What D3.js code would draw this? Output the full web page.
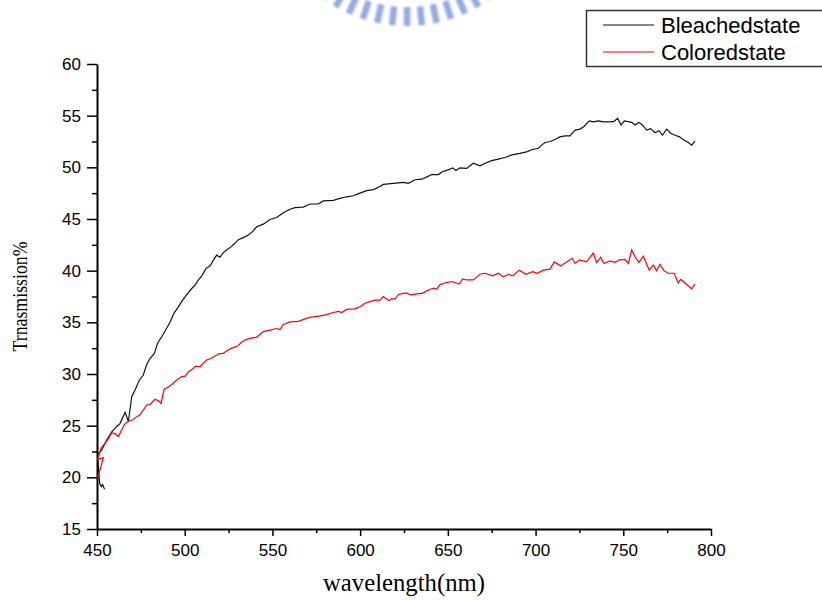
<!DOCTYPE html>
<html lang="en">
  <head>
    <meta charset="UTF-8">
    <title>Transmission spectrum</title>
    <style>
      body { margin: 0; background: #fff; }
      .tick text { font: 17px "Liberation Sans", Arial, sans-serif; fill: #000; }
      .axis path, .axis line { stroke: #000; }
      .series { fill: none; stroke-width: 1.2px; }
    </style>
  </head>
  <body>
    <script src="https://d3js.org/d3.v7.min.js"></script>
    <script>
      // [wavelength nm, transmission %] (scan order kept)
      const bleached = [
        [454.3,18.85],[453.2,19.3],[452.5,19.1],[451.5,19.4],[450.3,22.2],
        [452.7,22.65],[455.5,23.6],[458.4,24.4],[461.2,24.9],[463.1,25.2],[466.0,26.3],[467.9,25.4],
        [469.8,27.8],[471.7,28.45],[474.1,29.4],[476.4,29.9],[478.3,30.9],[480.2,31.5],[482.7,32.0],
        [484.6,33.0],[486.9,33.6],[489.3,34.3],[491.6,35.0],[493.9,35.9],[496.4,36.5],[498.6,37.1],
        [501.1,37.65],[503.6,38.2],[505.9,38.6],[507.8,39.1],[509.7,39.5],[512.1,40.2],[514.4,40.45],
        [516.3,41.0],[518.2,41.5],[520.1,41.3],[522.0,41.75],[523.9,42.0],[526.4,42.3],[528.3,42.6],
        [530.6,43.0],[533.4,43.2],[536.3,43.45],[538.5,43.75],[541.0,44.25],[544.8,44.5],[548.6,44.95],
        [552.4,45.15],[556.2,45.6],[560.0,45.95],[562.9,46.1],[567.6,46.15],[571.4,46.45],[576.2,46.45],
        [579.0,46.75],[584.7,46.8],[588.5,47.0],[592.3,47.15],[596.1,47.25],[599.9,47.5],[603.7,47.75],
        [607.5,47.85],[611.3,48.15],[613.2,48.35],[618.9,48.45],[624.6,48.55],[627.5,48.45],[631.3,48.8],
        [635.1,48.85],[637.9,49.05],[640.8,49.3],[644.6,49.3],[647.0,49.6],[649.3,49.7],[652.7,49.95],
        [654.6,49.7],[656.9,49.95],[660.7,49.9],[664.5,50.4],[668.3,50.15],[671.2,50.4],[675.0,50.65],
        [678.8,50.8],[682.6,50.95],[686.4,51.2],[691.1,51.35],[694.9,51.5],[697.8,51.7],[701.6,51.85],
        [703.5,52.15],[705.4,52.4],[708.2,52.5],[711.1,52.7],[713.9,52.95],[716.8,53.05],[719.6,53.05],
        [722.5,53.6],[725.3,53.7],[727.6,53.95],[730.6,54.5],[732.9,54.4],[735.8,54.5],[738.6,54.4],
        [742.4,54.4],[744.7,54.45],[746.8,54.75],[748.7,54.1],[750.6,54.5],[754.8,54.35],[756.7,54.1],
        [758.9,54.35],[760.9,54.1],[763.3,53.6],[765.6,53.75],[768.1,53.35],[770.4,53.55],[772.3,53.1],
        [774.7,53.7],[777.0,53.3],[779.5,53.1],[782.0,52.95],[784.6,52.65],[787.1,52.4],[789.0,52.15],
        [790.9,52.55]
      ];

      const colored = [
        [450.4,19.9],[453.6,21.9],[451.7,21.8],[450.4,21.7],[452.3,22.8],[454.6,23.3],[456.5,23.75],
        [458.4,24.3],[459.9,24.25],[462.2,23.95],[464.1,24.6],[466.0,25.2],[467.9,25.4],[470.1,25.55],
        [472.6,25.85],[474.5,26.05],[476.4,26.5],[478.3,27.0],[480.2,27.05],[483.1,27.55],[485.0,27.4],
        [486.5,27.15],[488.2,28.5],[490.7,28.75],[493.5,29.1],[496.0,29.5],[498.3,29.75],[500.2,29.8],
        [502.4,30.25],[504.3,30.45],[506.2,30.75],[508.7,30.7],[510.6,31.05],[512.5,31.35],[515.0,31.5],
        [517.3,31.75],[519.5,31.95],[522.0,32.0],[524.5,32.3],[526.8,32.5],[530.2,32.7],[532.5,33.1],
        [535.3,33.35],[538.2,33.5],[541.0,33.55],[544.8,34.1],[548.6,34.25],[552.4,34.4],[554.3,34.3],
        [556.2,34.8],[560.0,35.05],[564.8,35.1],[570.5,35.45],[576.2,35.6],[580.9,35.75],[584.7,35.95],
        [587.6,36.05],[589.5,35.95],[592.3,36.25],[597.1,36.3],[599.9,36.5],[602.8,36.85],[605.6,37.0],
        [608.5,37.15],[611.3,37.15],[613.2,37.5],[614.7,37.3],[616.6,37.1],[618.0,37.3],[619.9,37.25],
        [621.8,37.7],[624.6,37.8],[626.5,37.85],[628.8,37.65],[632.2,37.75],[635.1,37.8],[637.0,37.95],
        [639.8,38.2],[642.1,38.3],[643.6,38.2],[645.5,38.65],[649.3,38.85],[652.2,38.95],[656.5,38.7],
        [658.4,39.2],[660.7,39.1],[664.5,39.1],[668.3,39.65],[671.2,39.75],[675.5,39.5],[678.8,39.75],
        [681.6,39.4],[684.5,39.65],[686.9,39.5],[690.7,40.05],[694.5,39.65],[698.3,39.9],[701.0,39.75],
        [704.4,40.05],[708.2,40.15],[710.7,40.85],[714.3,40.45],[717.7,40.85],[720.9,41.2],[722.5,40.7],
        [725.0,41.05],[729.1,40.85],[732.9,41.7],[734.8,40.8],[737.1,41.3],[739.0,40.7],[742.4,40.95],
        [745.2,40.8],[748.1,41.05],[750.9,41.1],[752.9,40.7],[754.8,42.0],[756.7,41.35],[758.9,40.8],
        [761.4,41.4],[764.8,40.05],[767.1,40.55],[769.0,40.0],[770.9,40.6],[773.2,40.0],[775.6,39.75],
        [779.0,39.75],[781.3,38.8],[782.7,39.15],[785.2,38.8],[789.0,38.25],[790.9,38.7]
      ];

      const seriesNames = ["Bleachedstate", "Coloredstate"];
      const seriesColors = ["#111", "#ff0000"];
      const xTicks = [450, 500, 550, 600, 650, 700, 750, 800];
      const yTicks = [15, 20, 25, 30, 35, 40, 45, 50, 55, 60];

      const width = 822, height = 600;
      const plotLeft = 97, plotRight = 711, plotTop = 64, plotBottom = 529;

      const svg = d3.select("body").append("svg")
        .attr("width", width)
        .attr("height", height);

      // partial logo watermark cut off at the top edge (soft, light blue teeth)
      svg.append("defs").append("filter")
        .attr("id", "soft")
        .append("feGaussianBlur")
        .attr("stdDeviation", 0.8);

      const logo = svg.append("g")
        .attr("transform", "translate(407,-117)")
        .attr("filter", "url(#soft)");
      d3.range(-7, 8).forEach(k => {
        const a = k * 6 * Math.PI / 180;
        logo.append("line")
          .attr("x1", 124 * Math.sin(a)).attr("y1", 124 * Math.cos(a))
          .attr("x2", 143 * Math.sin(a)).attr("y2", 143 * Math.cos(a))
          .attr("stroke", "#95abe6")
          .attr("stroke-width", 6.5);
      });

      const x = d3.scaleLinear().domain([450, 800]).range([plotLeft, plotRight]);
      const y = d3.scaleLinear().domain([15, 60]).range([plotBottom, plotTop]);

      // minor ticks first, major axes on top
      svg.append("g")
        .attr("class", "axis")
        .attr("transform", `translate(0,${plotBottom})`)
        .call(d3.axisBottom(x).tickValues(d3.range(475, 800, 50)).tickSize(4).tickFormat(""))
        .call(g => g.select(".domain").remove())
        .selectAll("line").attr("stroke-width", 1.5);

      svg.append("g")
        .attr("class", "axis")
        .attr("transform", `translate(${plotLeft},0)`)
        .call(d3.axisLeft(y).tickValues(d3.range(17.5, 60, 5)).tickSize(5).tickFormat(""))
        .call(g => g.select(".domain").remove())
        .selectAll("line").attr("stroke-width", 1.5);

      const xAxis = svg.append("g")
        .attr("class", "axis")
        .attr("transform", `translate(0,${plotBottom})`)
        .call(d3.axisBottom(x).tickValues(xTicks).tickSize(7).tickSizeOuter(0).tickPadding(8));
      xAxis.select(".domain").attr("stroke-width", 2);
      xAxis.selectAll(".tick line").attr("stroke-width", 1.5);

      const yAxis = svg.append("g")
        .attr("class", "axis")
        .attr("transform", `translate(${plotLeft},0)`)
        .call(d3.axisLeft(y).tickValues(yTicks).tickSize(10).tickSizeOuter(0).tickPadding(6));
      yAxis.select(".domain").attr("stroke-width", 2);
      yAxis.selectAll(".tick line").attr("stroke-width", 1.5);

      const line = d3.line().x(d => x(d[0])).y(d => y(d[1]));

      [bleached, colored].forEach((data, i) => {
        svg.append("path")
          .datum(data)
          .attr("class", "series")
          .attr("stroke", seriesColors[i])
          .attr("d", line);
      });

      // axis titles
      svg.append("text")
        .attr("x", (plotLeft + plotRight) / 2)
        .attr("y", 591)
        .attr("text-anchor", "middle")
        .attr("font-family", "'Liberation Serif', 'Times New Roman', serif")
        .attr("font-size", 25)
        .attr("textLength", 162)
        .attr("lengthAdjust", "spacingAndGlyphs")
        .text("wavelength(nm)");

      svg.append("text")
        .attr("transform", `translate(27,${(plotTop + plotBottom) / 2}) rotate(-90)`)
        .attr("text-anchor", "middle")
        .attr("font-family", "'Liberation Serif', 'Times New Roman', serif")
        .attr("font-size", 20)
        .attr("textLength", 110)
        .attr("lengthAdjust", "spacingAndGlyphs")
        .text("Trnasmission%");

      // legend box runs off the right edge
      const legend = svg.append("g");
      legend.append("rect")
        .attr("x", 586.5).attr("y", 10.5)
        .attr("width", 260).attr("height", 56)
        .attr("fill", "none")
        .attr("stroke", "#333")
        .attr("stroke-width", 1.5);

      seriesNames.forEach((name, i) => {
        const ly = 25 + i * 27;
        legend.append("line")
          .attr("x1", 603).attr("x2", 654)
          .attr("y1", ly).attr("y2", ly)
          .attr("stroke", seriesColors[i])
          .attr("stroke-width", 1.2);
        legend.append("text")
          .attr("x", 661)
          .attr("y", ly + 8)
          .attr("font-family", "'Liberation Sans', Arial, sans-serif")
          .attr("font-size", 22)
          .text(name);
      });
    </script>
  </body>
</html>
